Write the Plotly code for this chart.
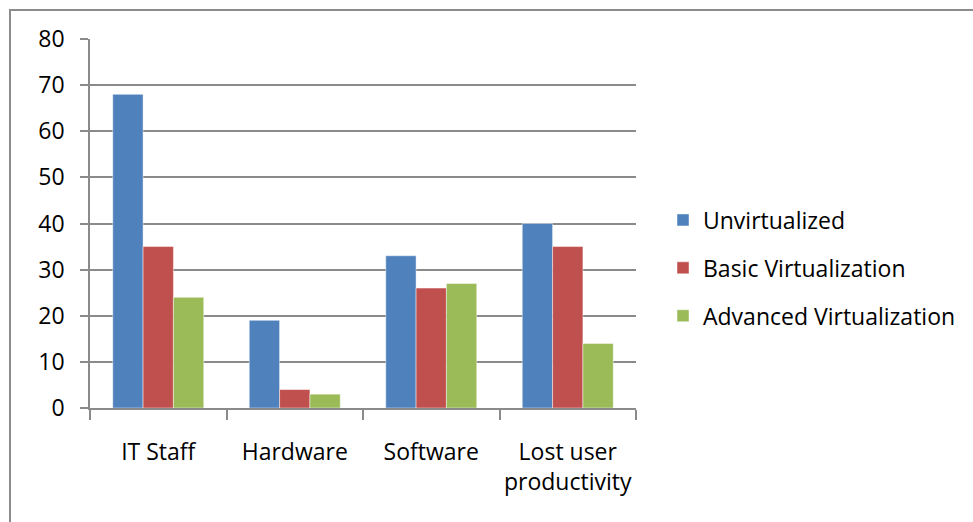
import plotly.graph_objects as go

# Cost categories and the three deployment strategies
categories = ["IT Staff", "Hardware", "Software", "Lost user<br>productivity"]
unvirtualized = [68, 19, 33, 40]
basic_virtualization = [35, 4, 26, 35]
advanced_virtualization = [24, 3, 27, 14]
y_ticks = [0, 10, 20, 30, 40, 50, 60, 70, 80]

series = [
    ("Unvirtualized", unvirtualized, "#4F81BD"),
    ("Basic Virtualization", basic_virtualization, "#C0504D"),
    ("Advanced Virtualization", advanced_virtualization, "#9BBB59"),
]

FONT = "Open Sans"
GRID = "#8a8a8a"
FS = 23

fig = go.Figure()
for name, values, color in series:
    fig.add_trace(go.Bar(
        x=categories, y=values, name=name, legendgroup=name,
        marker=dict(color=color, line=dict(color="rgba(255,255,255,0.45)", width=1)),
    ))

W, H = 973, 522
ml, mr, mt, mb = 90, 337, 39, 114
pw, ph = W - ml - mr, H - mt - mb

def px_x(p):
    return (p - ml) / pw

def px_y(p):
    return (H - mb - p) / ph

fig.update_layout(
    width=W, height=H,
    margin=dict(l=ml, r=mr, t=mt, b=mb, pad=0, autoexpand=False),
    paper_bgcolor="white", plot_bgcolor="white",
    barmode="group", bargap=1.5 / 4.5, bargroupgap=0,
    font=dict(family=FONT, size=FS, color="#000000"),
    showlegend=True,
    legend=dict(
        x=px_x(663), xanchor="left", y=px_y(268), yanchor="middle",
        font=dict(family=FONT, size=FS, color="#000000"),
        tracegroupgap=15, bgcolor="rgba(0,0,0,0)",
    ),
    xaxis=dict(
        showgrid=False, showline=True, linecolor=GRID, linewidth=1.5,
        ticks="outside", tickson="boundaries", ticklen=10, tickcolor=GRID, tickwidth=1.5,
        ticklabelstandoff=23, tickangle=0, automargin=False,
        tickfont=dict(family=FONT, size=FS),
    ),
    yaxis=dict(
        range=[0, 80], tickvals=y_ticks, showgrid=True, gridcolor=GRID, gridwidth=1.5,
        showline=True, linecolor=GRID, linewidth=1.5, zeroline=False,
        ticks="outside", ticklen=8, tickcolor=GRID, tickwidth=1.5,
        ticklabelstandoff=11, automargin=False, tickfont=dict(family=FONT, size=FS),
    ),
    shapes=[dict(
        type="rect", xref="paper", yref="paper",
        x0=px_x(10), y0=-3, x1=4, y1=px_y(10),
        line=dict(color="#8c8c8c", width=2), fillcolor="rgba(0,0,0,0)", layer="below",
    )],
)

fig.write_html("out.html")
